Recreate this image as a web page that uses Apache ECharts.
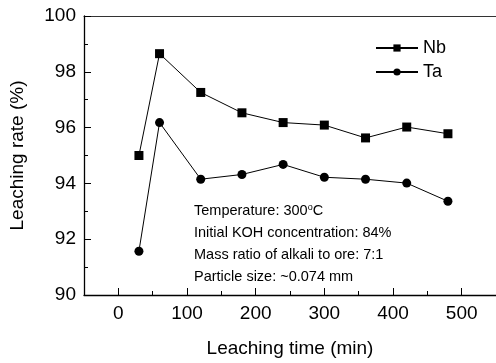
<!DOCTYPE html>
<html>
<head>
<meta charset="utf-8">
<script src="https://cdn.jsdelivr.net/npm/echarts@6/dist/echarts.min.js"></script>
<style>
  html, body { margin: 0; padding: 0; background: #fff; }
  #chart { width: 496px; height: 363px; }
</style>
</head>
<body>
<div id="chart"></div>
<script>
// leaching time (min)
const times = [30, 60, 120, 180, 240, 300, 360, 420, 480];
const nbRate = [95.0, 98.65, 97.26, 96.53, 96.18, 96.09, 95.63, 96.02, 95.78];
const taRate = [91.57, 96.18, 94.15, 94.32, 94.68, 94.22, 94.15, 94.01, 93.36];
const xMajor = [0, 100, 200, 300, 400, 500];
const xMinor = [50, 150, 250, 350, 450];
const notes = [
  'Temperature: 300{sup|o}C',
  'Initial KOH concentration: 84%',
  'Mass ratio of alkali to ore: 7:1',
  'Particle size: ~0.074 mm'
];

const font = 'Liberation Sans, Arial, sans-serif';
const chart = echarts.init(document.getElementById('chart'));

const pair = (ys) => times.map((t, i) => [t, ys[i]]);

chart.setOption({
  animation: false,
  textStyle: { fontFamily: font, color: '#000' },
  grid: { left: 78, top: 16, right: -4, bottom: 65 },
  legend: {
    orient: 'vertical',
    left: 370, top: 34,
    itemWidth: 42, itemHeight: 9, itemGap: 6,
    textStyle: { fontSize: 18, fontFamily: font, color: '#000' },
    data: ['Nb', 'Ta']
  },
  xAxis: [
    {
      type: 'value', min: -50, max: 550,
      name: 'Leaching time (min)', nameLocation: 'middle', nameGap: 44,
      nameTextStyle: { fontSize: 19, fontFamily: font, color: '#000' },
      axisLine: { onZero: false, lineStyle: { color: '#000', width: 1.3 } },
      axisTick: { inside: true, length: 7, customValues: xMajor, lineStyle: { color: '#000' } },
      axisLabel: { fontSize: 19, color: '#000', margin: 9, customValues: xMajor },
      splitLine: { show: false }
    },
    {
      // minor ticks only
      type: 'value', min: -50, max: 550, position: 'bottom',
      axisLine: { show: false, onZero: false },
      axisTick: { inside: true, length: 4, customValues: xMinor, lineStyle: { color: '#000' } },
      axisLabel: { show: false },
      splitLine: { show: false }
    },
    {
      // top frame line
      type: 'value', min: -50, max: 550, position: 'top',
      axisLine: { show: true, onZero: false, lineStyle: { color: '#333', width: 1.2 } },
      axisTick: { show: false },
      axisLabel: { show: false },
      splitLine: { show: false }
    }
  ],
  yAxis: {
    type: 'value', min: 90, max: 100, interval: 2,
    name: 'Leaching rate (%)', nameLocation: 'middle', nameGap: 57,
    nameTextStyle: { fontSize: 19, fontFamily: font, color: '#000' },
    axisLine: { onZero: false, lineStyle: { color: '#000', width: 1.3 } },
    axisTick: { inside: true, length: 7, lineStyle: { color: '#000' } },
    minorTick: { show: true, splitNumber: 2, length: 4, lineStyle: { color: '#000' } },
    axisLabel: { fontSize: 19, color: '#000', margin: 8 },
    splitLine: { show: false }
  },
  series: [
    {
      name: 'Nb', type: 'line', data: pair(nbRate),
      symbol: 'rect', symbolSize: 9,
      lineStyle: { color: '#000', width: 1 },
      itemStyle: { color: '#000' }
    },
    {
      name: 'Ta', type: 'line', data: pair(taRate),
      symbol: 'circle', symbolSize: 9,
      lineStyle: { color: '#000', width: 1 },
      itemStyle: { color: '#000' }
    }
  ],
  graphic: notes.map((t, i) => ({
    type: 'text',
    left: 194, top: 203 + i * 22,
    style: {
      text: t,
      font: '14.5px ' + font,
      fill: '#000',
      rich: {
        sup: { fontSize: 9, verticalAlign: 'top', padding: [0, 0, 6, 0], fill: '#000' }
      }
    }
  }))
});
</script>
</body>
</html>
